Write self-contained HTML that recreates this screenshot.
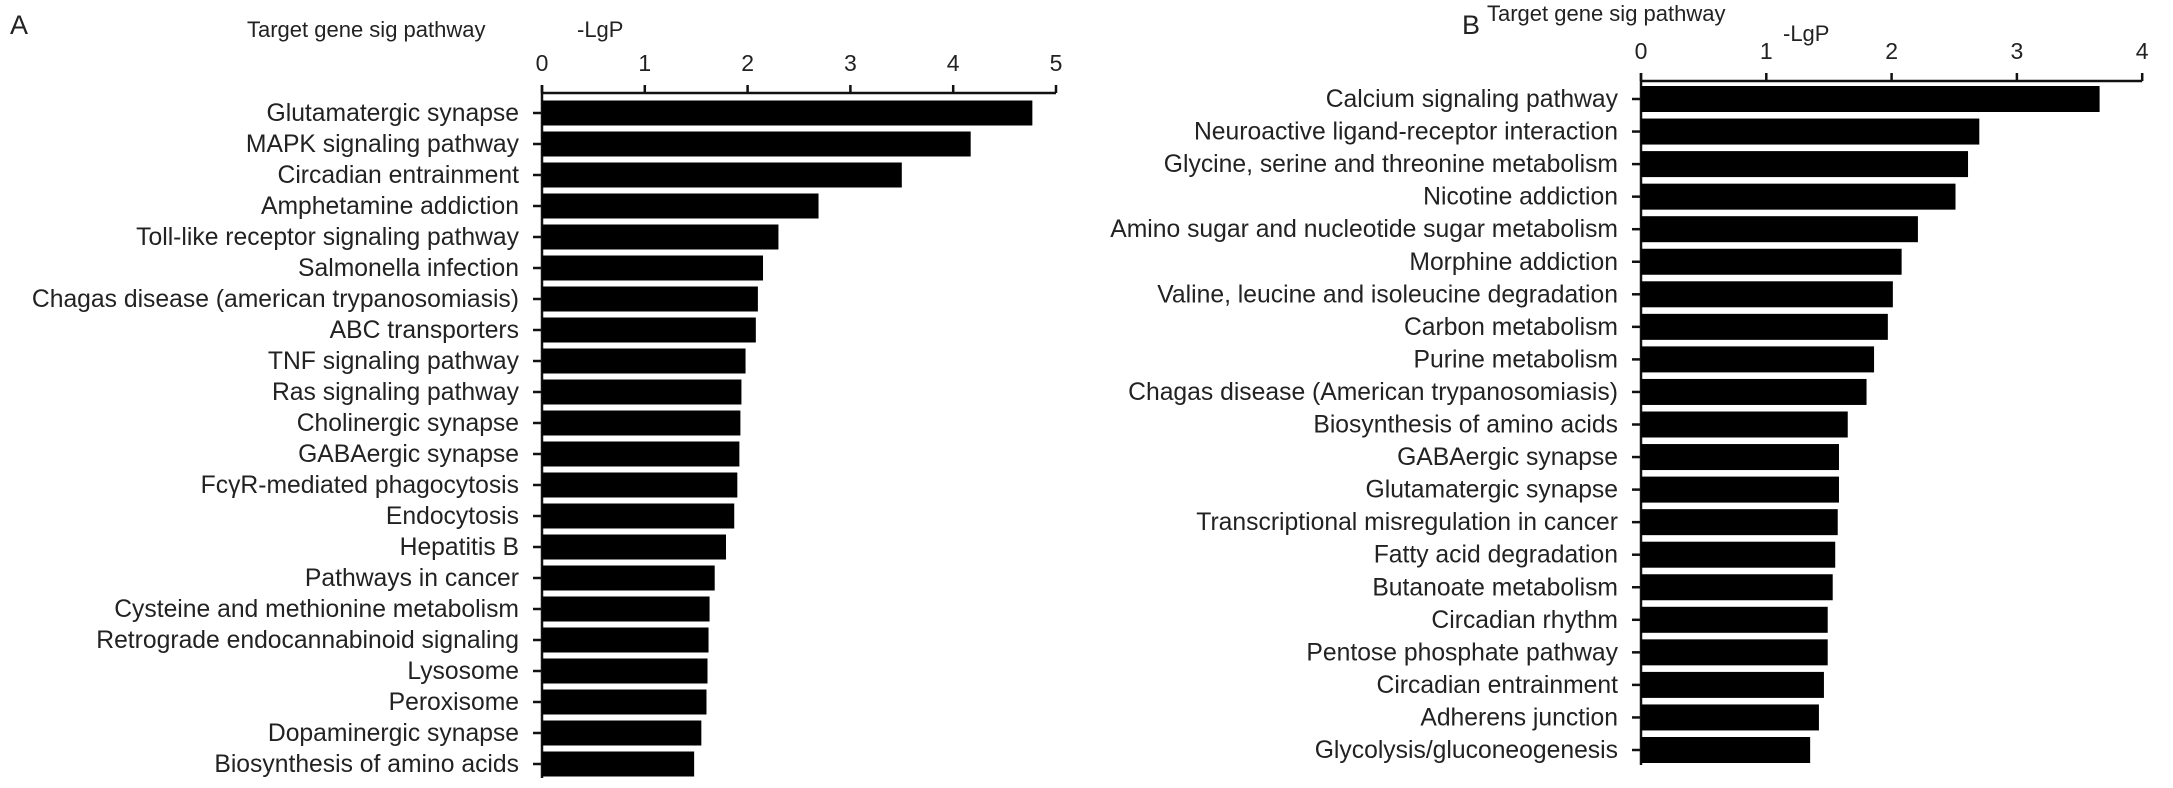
<!DOCTYPE html>
<html><head><meta charset="utf-8"><style>
body{margin:0;background:#fff;}
svg{display:block;font-family:"Liberation Sans",Arial,sans-serif;}
</style></head><body>
<svg id="chart" width="2173" height="788" xmlns="http://www.w3.org/2000/svg">
<text x="10" y="34" font-size="27" fill="#222">A</text>
<text x="1462" y="34" font-size="27" fill="#222">B</text>
<text x="247" y="37" font-size="22" fill="#222">Target gene sig pathway</text>
<text x="577" y="37" font-size="22" fill="#222">-LgP</text>
<text x="1487" y="21" font-size="22" fill="#222">Target gene sig pathway</text>
<text x="1783" y="41" font-size="22" fill="#222">-LgP</text>
<g id="ga"></g>
<g id="gb"></g>
</svg>
<script>
const catsA=["Glutamatergic synapse","MAPK signaling pathway","Circadian entrainment","Amphetamine addiction","Toll-like receptor signaling pathway","Salmonella infection","Chagas disease (american trypanosomiasis)","ABC transporters","TNF signaling pathway","Ras signaling pathway","Cholinergic synapse","GABAergic synapse","Fc\u03b3R-mediated phagocytosis","Endocytosis","Hepatitis B","Pathways in cancer","Cysteine and methionine metabolism","Retrograde endocannabinoid signaling","Lysosome","Peroxisome","Dopaminergic synapse","Biosynthesis of amino acids"];
const valsA=[4.77,4.17,3.5,2.69,2.3,2.15,2.1,2.08,1.98,1.94,1.93,1.92,1.9,1.87,1.79,1.68,1.63,1.62,1.61,1.6,1.55,1.48];
const ticksA=[0,1,2,3,4,5];
const catsB=["Calcium signaling pathway","Neuroactive ligand-receptor interaction","Glycine, serine and threonine metabolism","Nicotine addiction","Amino sugar and nucleotide sugar metabolism","Morphine addiction","Valine, leucine and isoleucine degradation","Carbon metabolism","Purine metabolism","Chagas disease (American trypanosomiasis)","Biosynthesis of amino acids","GABAergic synapse","Glutamatergic synapse","Transcriptional misregulation in cancer","Fatty acid degradation","Butanoate metabolism","Circadian rhythm","Pentose phosphate pathway","Circadian entrainment","Adherens junction","Glycolysis/gluconeogenesis"];
const valsB=[3.66,2.7,2.61,2.51,2.21,2.08,2.01,1.97,1.86,1.8,1.65,1.58,1.58,1.57,1.55,1.53,1.49,1.49,1.46,1.42,1.35];
const ticksB=[0,1,2,3,4];
const NS="http://www.w3.org/2000/svg";
function mk(t,a,p){const e=document.createElementNS(NS,t);for(const k in a)e.setAttribute(k,a[k]);p.appendChild(e);return e;}
function draw(g,cats,vals,ticks,x0,unit,axisY,firstC,step,barH,bottom,pfx){
  const xs=v=>x0+v*unit, ys=i=>firstC+i*step;
  const ax=mk('line',{x1:x0,y1:axisY,x2:xs(ticks[ticks.length-1]),y2:axisY,stroke:'#111','stroke-width':2.5},g);
  
  
  const ay=mk('line',{x1:x0,y1:axisY-8,x2:x0,y2:bottom,stroke:'#111','stroke-width':2.5},g);
  
  
  ticks.forEach(t=>{
    const l=mk('line',{x1:xs(t),y1:axisY-8,x2:xs(t),y2:axisY,stroke:'#111','stroke-width':2.5},g);
    
    
    const tx=mk('text',{x:xs(t),y:axisY-22,'font-size':23,'text-anchor':'middle',fill:'#222'},g);
    tx.textContent=t;
    
    
  });
  cats.forEach((c,i)=>{
    const y=ys(i);
    const r=mk('rect',{x:x0,y:y-barH/2,width:xs(vals[i])-x0,height:barH,fill:'#000'},g);
    
    
    const tk=mk('line',{x1:x0-9,y1:y,x2:x0,y2:y,stroke:'#111','stroke-width':2.5},g);
    
    
    const tx=mk('text',{x:x0-23,y:y+8,'font-size':24.7,'text-anchor':'end',fill:'#222'},g);
    tx.textContent=c;
    
    
  });
}
draw(document.getElementById('ga'),catsA,valsA,ticksA,542,102.8,93,113,31.0,25,778,'a');
draw(document.getElementById('gb'),catsB,valsB,ticksB,1641,125.3,81,99,32.55,26,765,'b');
</script>
</body></html>
